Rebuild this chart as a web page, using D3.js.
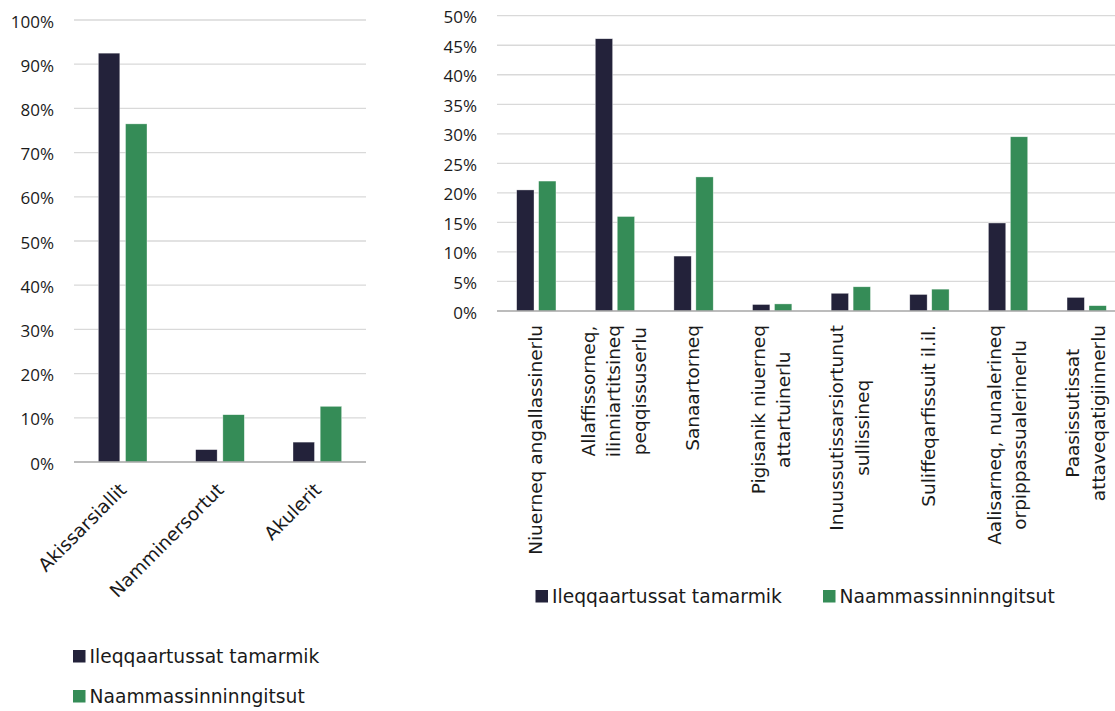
<!DOCTYPE html>
<html>
<head>
<meta charset="utf-8">
<script src="https://cdn.jsdelivr.net/npm/d3@7"></script>
<style>
  html, body { margin: 0; padding: 0; background: #fff; }
  svg { display: block; }
</style>
</head>
<body>
<svg id="chart" width="1115" height="711"></svg>
<script>
// ---------- DATA ----------
const seriesNames = ["Ileqqaartussat tamarmik", "Naammassinninngitsut"];
const seriesColors = ["#23223a", "#358c57"];

const leftCategories = ["Akissarsiallit", "Namminersortut", "Akulerit"];
const leftAll = [92.5, 2.8, 4.5];
const leftNot = [76.5, 10.7, 12.6];
const leftTicks = [0, 10, 20, 30, 40, 50, 60, 70, 80, 90, 100];

const rightCategories = [
  "Niuerneq angallassinerlu",
  "Allaffissorneq,\nilinniartitsineq\npeqqissuserlu",
  "Sanaartorneq",
  "Pigisanik niuerneq\nattartuinerlu",
  "Inuussutissarsiortunut\nsullissineq",
  "Suliffeqarfissuit il.il.",
  "Aalisarneq, nunalerineq\norpippassualerinerlu",
  "Paasissutissat\nattaveqatigiinnerlu"
];
const rightAll = [20.5, 46.1, 9.3, 1.1, 3.0, 2.8, 14.9, 2.3];
const rightNot = [22.0, 16.0, 22.7, 1.2, 4.1, 3.7, 29.5, 0.9];
const rightTicks = [0, 5, 10, 15, 20, 25, 30, 35, 40, 45, 50];

// ---------- DRAW ----------
const svg = d3.select("#chart");
const tickFont = "'Open Sans', 'Noto Sans', sans-serif";
const labelFont = "'DejaVu Sans', Verdana, sans-serif";

function drawChart(opt) {
  const g = svg.append("g");
  const x0 = d3.scaleBand().domain(opt.categories).range(opt.xRange)
    .paddingInner(0.5).paddingOuter(0.25);
  const x1 = d3.scaleBand().domain([0, 1]).range([0, x0.bandwidth()]).paddingInner(0.21);
  const y = d3.scaleLinear().domain(opt.yDomain).range(opt.yRange);

  // gridlines
  g.append("g").selectAll("line").data(opt.ticks.filter(t => t !== 0)).join("line")
    .attr("x1", opt.xRange[0]).attr("x2", opt.xRange[1])
    .attr("y1", d => y(d)).attr("y2", d => y(d))
    .attr("stroke", "#d9d9d9").attr("stroke-width", 1.3);

  // tick labels
  g.append("g").selectAll("text").data(opt.ticks).join("text")
    .attr("x", opt.xRange[0] - opt.tickGap).attr("y", d => y(d) + 7.5)
    .attr("text-anchor", "end")
    .attr("font-family", tickFont).attr("font-size", 17).attr("fill", "#1a1a1a")
    .text(d => d + "%");

  // bars
  const rows = opt.categories.map((c, i) => ({ c, vals: [opt.a[i], opt.b[i]] }));
  const grp = g.append("g").selectAll("g").data(rows).join("g")
    .attr("transform", d => `translate(${x0(d.c)},0)`);
  grp.selectAll("rect").data(d => d.vals.map((v, k) => ({ v, k }))).join("rect")
    .attr("x", d => x1(d.k)).attr("width", x1.bandwidth())
    .attr("y", d => y(d.v)).attr("height", d => y(0) - y(d.v))
    .attr("fill", d => seriesColors[d.k])
    .attr("stroke", "#ffffff").attr("stroke-width", 0.6).attr("stroke-opacity", 0.6);

  // axis line
  g.append("line").attr("x1", opt.xRange[0]).attr("x2", opt.xRange[1])
    .attr("y1", y(0)).attr("y2", y(0)).attr("stroke", "#a6a6a6").attr("stroke-width", 1.5);

  return { g, x0, y };
}

// LEFT CHART
const L = drawChart({
  categories: leftCategories, a: leftAll, b: leftNot, ticks: leftTicks,
  xRange: [74, 366], yDomain: [0, 100], yRange: [462, 20], tickGap: 20
});
L.g.append("g").selectAll("text").data(leftCategories).join("text")
  .attr("transform", d => `translate(${L.x0(d) + L.x0.bandwidth() / 2 + 5},${L.y(0) + 29}) rotate(-45)`)
  .attr("text-anchor", "end")
  .attr("font-family", labelFont).attr("font-size", 18.5).attr("fill", "#1a1a1a")
  .text(d => d);

// RIGHT CHART
const R = drawChart({
  categories: rightCategories, a: rightAll, b: rightNot, ticks: rightTicks,
  xRange: [497, 1126], yDomain: [0, 50], yRange: [311, 15.7], tickGap: 20
});
const lineH = 25.5;
const lab = R.g.append("g").selectAll("g").data(rightCategories).join("g")
  .attr("class", "rlab");
lab.each(function (d) {
  const el = d3.select(this);
  const lines = d.split("\n");
  const texts = lines.map((ln, i) => el.append("text")
    .attr("font-family", labelFont).attr("font-size", 18.5).attr("fill", "#1a1a1a")
    .attr("text-anchor", "middle")
    .attr("y", (i - (lines.length - 1) / 2) * lineH)
    .attr("dy", "0.28em")
    .text(ln));
  const maxLen = d3.max(texts, t => t.node().getComputedTextLength());
  texts.forEach(t => t.attr("x", -maxLen / 2));
  const cx = R.x0(d) + R.x0.bandwidth() / 2;
  el.attr("transform", `translate(${cx},${R.y(0) + 14}) rotate(-90)`);
});

// LEGENDS
function legendItem(x, y, k) {
  svg.append("rect").attr("x", x).attr("y", y - 13).attr("width", 12.5).attr("height", 12.5)
    .attr("fill", seriesColors[k]);
  svg.append("text").attr("x", x + 16.5).attr("y", y)
    .attr("font-family", labelFont).attr("font-size", 18.7).attr("fill", "#1a1a1a")
    .text(seriesNames[k]);
}
legendItem(73, 663, 0);
legendItem(73, 703, 1);
legendItem(535.5, 603, 0);
legendItem(823, 603, 1);
</script>
</body>
</html>
